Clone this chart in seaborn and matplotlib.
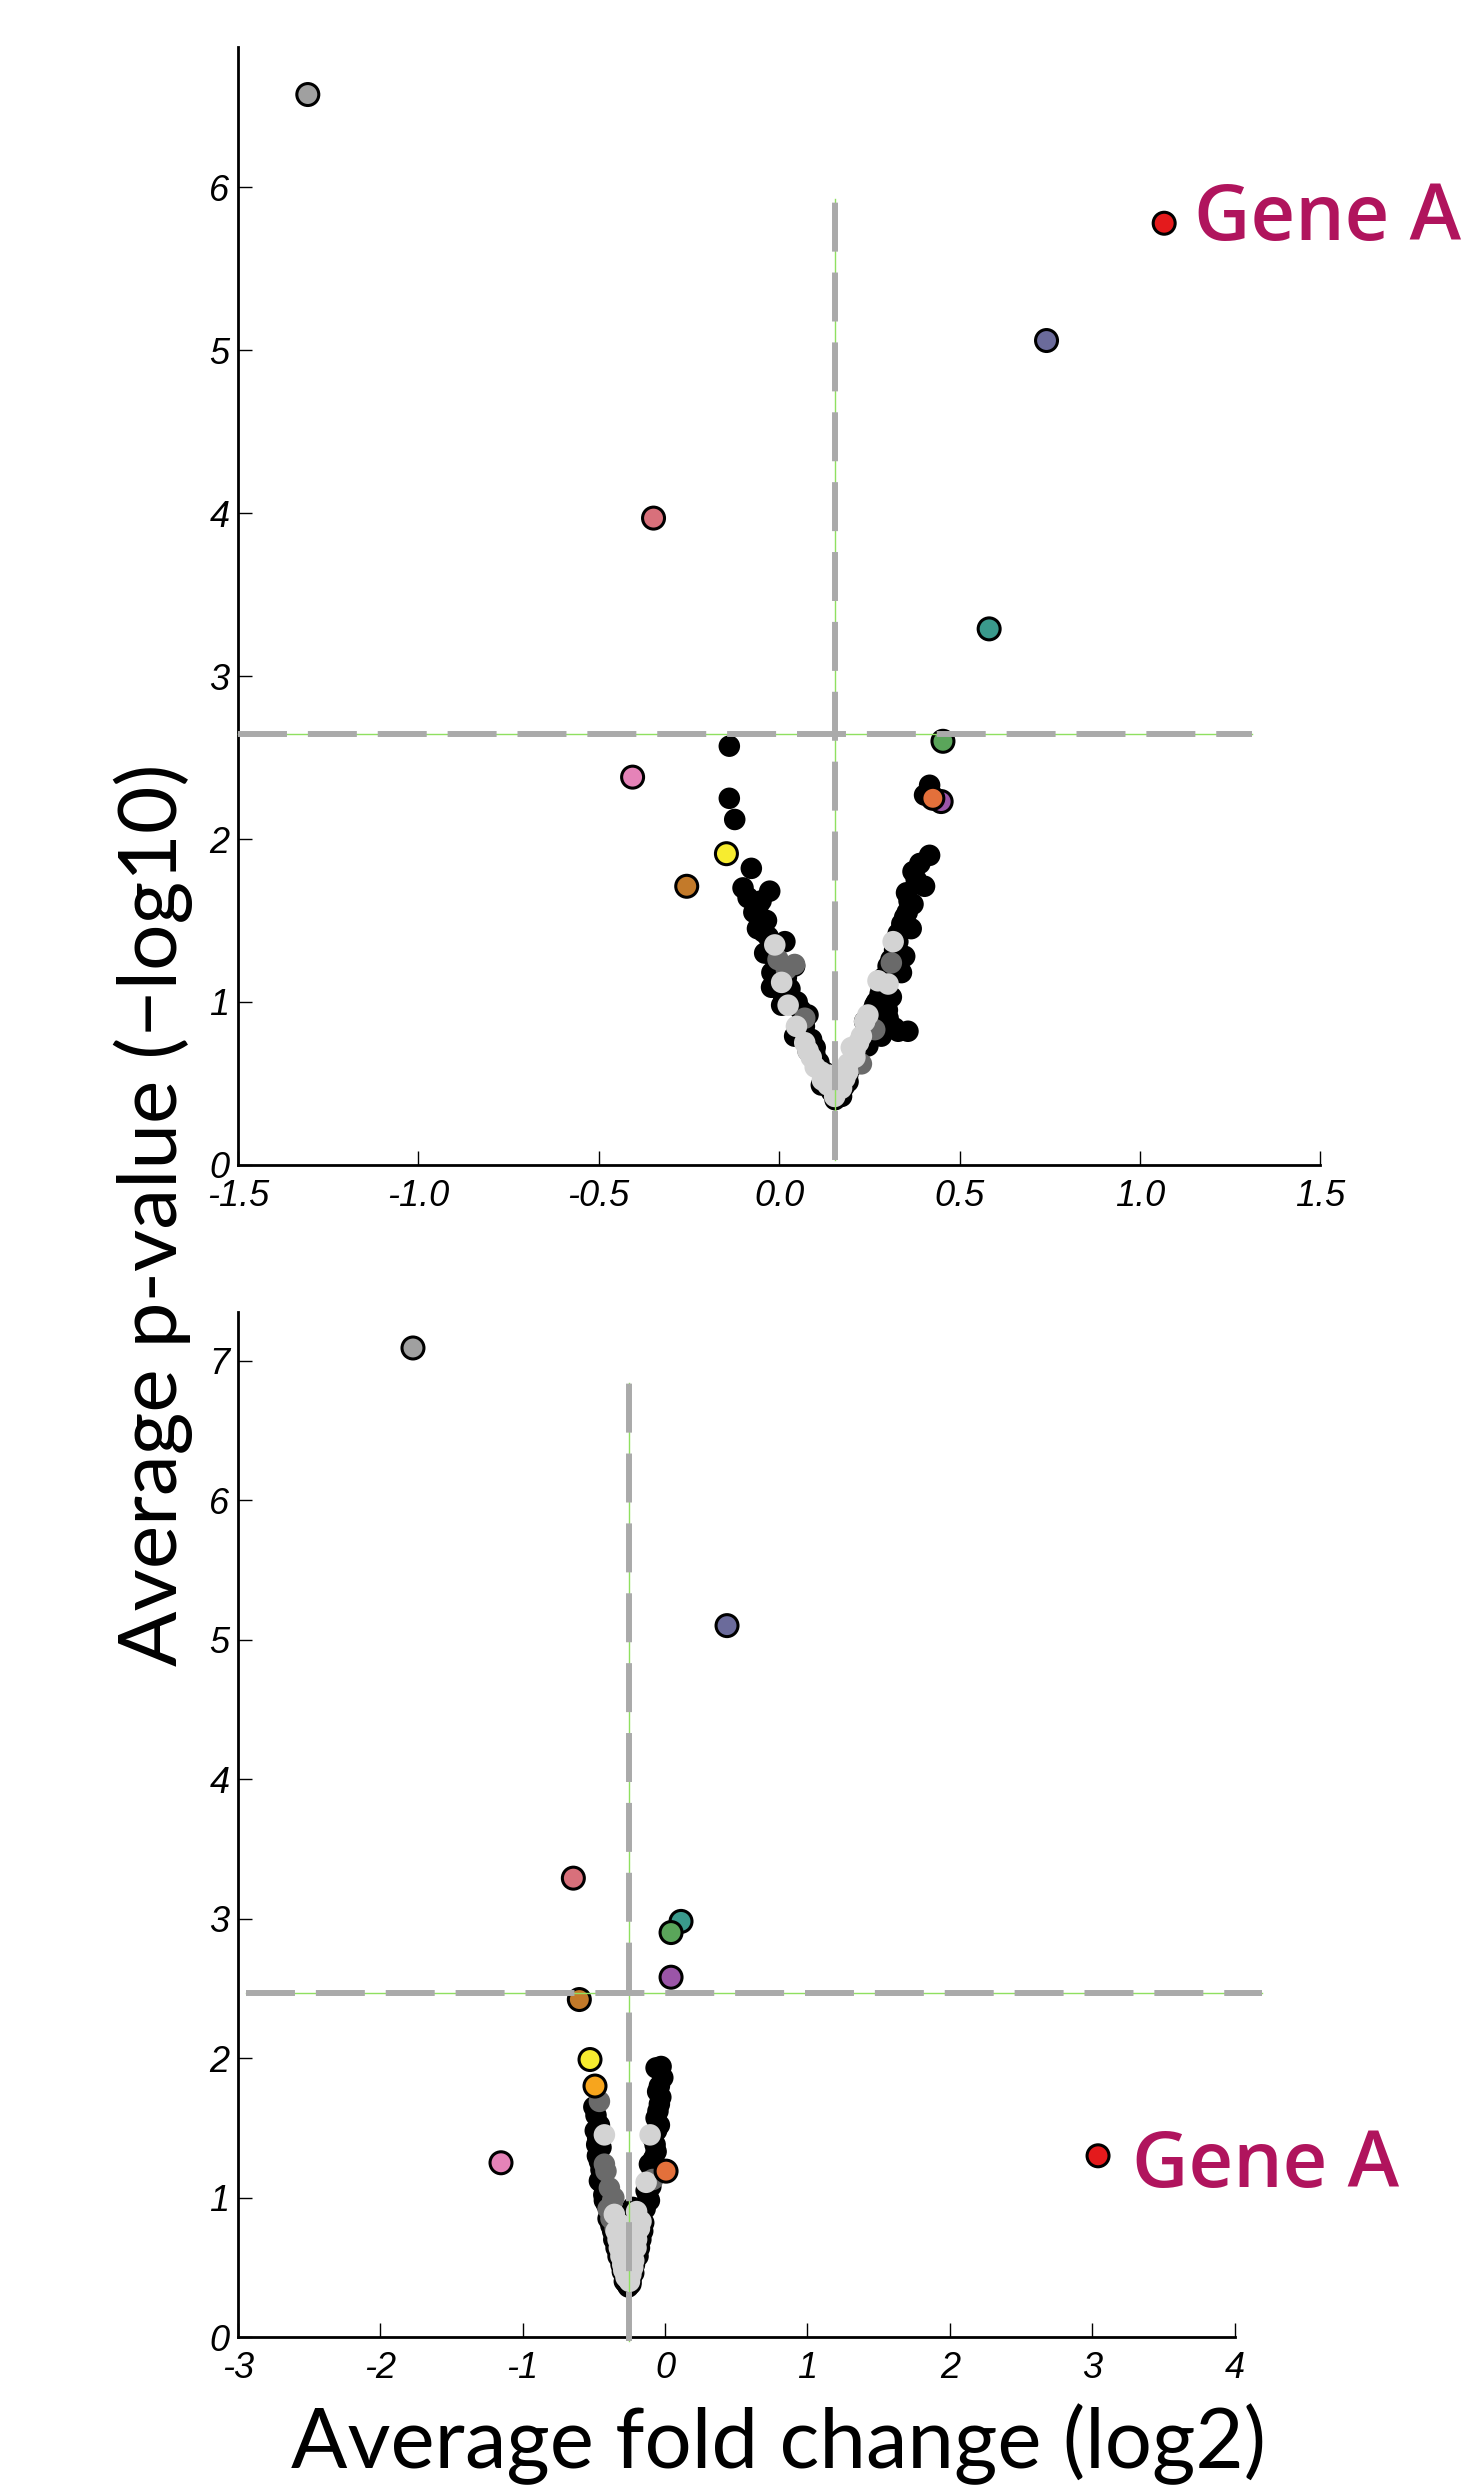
import matplotlib
matplotlib.use('Agg')
import matplotlib.pyplot as plt
import seaborn as sns
import pandas as pd

# ---- top panel data ----
top_black_x = [-0.138, -0.138, -0.123, -0.077, -0.026, -0.086, -0.058, -0.035, -0.044, 0.016,
               -0.017, 0.043, -0.021, 0.025, 0.080, 0.043, 0.099, 0.126, 0.145, 0.117,
               0.062, -0.003, 0.007,
               -0.100, -0.070, -0.050, -0.060, -0.030, -0.010, 0.000, 0.020, 0.030, 0.050,
               0.060, 0.070, 0.090, 0.100, 0.110, 0.130, 0.140, -0.040, -0.020, 0.010,
               0.417, 0.403, 0.417, 0.371, 0.403, 0.353, 0.371, 0.348, 0.366, 0.329,
               0.348, 0.302, 0.339, 0.283, 0.311, 0.265, 0.302, 0.357, 0.320, 0.237,
               0.246, 0.210, 0.191, 0.173, 0.283, 0.155,
               0.390, 0.380, 0.360, 0.355, 0.340, 0.330, 0.320, 0.310, 0.290, 0.280,
               0.270, 0.260, 0.250, 0.230, 0.220, 0.200, 0.190, 0.180, 0.300, 0.330]
top_black_y = [2.57, 2.25, 2.12, 1.82, 1.68, 1.64, 1.59, 1.50, 1.43, 1.37,
               1.28, 1.22, 1.09, 1.03, 0.92, 0.79, 0.68, 0.57, 0.45, 0.49,
               0.83, 1.13, 0.98,
               1.70, 1.55, 1.62, 1.45, 1.40, 1.33, 1.20, 1.15, 1.08, 1.00,
               0.95, 0.85, 0.77, 0.72, 0.63, 0.53, 0.48, 1.30, 1.18, 1.05,
               2.33, 2.27, 1.90, 1.80, 1.71, 1.67, 1.60, 1.52, 1.45, 1.37,
               1.28, 1.22, 1.18, 1.09, 1.03, 0.98, 0.90, 0.82, 0.84, 0.88,
               0.73, 0.62, 0.51, 0.42, 0.79, 0.40,
               1.85, 1.75, 1.62, 1.55, 1.48, 1.42, 1.32, 1.26, 1.15, 1.05,
               1.00, 0.95, 0.85, 0.78, 0.70, 0.60, 0.55, 0.48, 0.95, 0.82]
top_dark_x = [-0.003, 0.043, 0.071, 0.080, 0.311, 0.265, 0.228, 0.020]
top_dark_y = [1.26, 1.23, 0.90, 0.70, 1.24, 0.83, 0.62, 1.20]
top_light_x = [-0.012, 0.007, 0.025, 0.048, 0.071, 0.089, 0.117, 0.135, 0.154,
               0.316, 0.274, 0.302, 0.237, 0.228, 0.210, 0.191, 0.182, 0.173, 0.246,
               0.100, 0.120, 0.150, 0.170, 0.190, 0.210, 0.080, 0.220, 0.140, 0.200]
top_light_y = [1.35, 1.12, 0.98, 0.85, 0.75, 0.66, 0.57, 0.49, 0.42,
               1.37, 1.13, 1.11, 0.88, 0.79, 0.70, 0.62, 0.53, 0.47, 0.92,
               0.60, 0.52, 0.47, 0.52, 0.57, 0.66, 0.70, 0.75, 0.55, 0.72]
top_hit_names = ['grey', 'red', 'slate', 'rose', 'teal', 'green', 'pink',
                 'purple', 'orangered', 'yellow', 'brown']
top_hit_x = [-1.306, 1.067, 0.741, -0.348, 0.582, 0.454, -0.406, 0.449, 0.426, -0.146, -0.256]
top_hit_y = [6.57, 5.78, 5.06, 3.97, 3.29, 2.60, 2.38, 2.23, 2.25, 1.91, 1.71]

# ---- bottom panel data ----
bot_black_x = [-0.485, -0.461, -0.473, -0.450, -0.461, -0.438, -0.461, -0.415, -0.426, -0.391,
               -0.368, -0.344, -0.309, -0.286, -0.475,
               -0.500, -0.490, -0.480, -0.470, -0.450, -0.440, -0.430, -0.410, -0.400, -0.380,
               -0.360, -0.330, -0.300, -0.270,
               -0.028, -0.063, -0.016, -0.052, -0.040, -0.063, -0.040, -0.087, -0.063, -0.110,
               -0.087, -0.133, -0.110, -0.180, -0.157, -0.180, -0.215, -0.239, -0.227, -0.258,
               -0.040, -0.030, -0.050, -0.060, -0.070, -0.080, -0.090, -0.100, -0.120, -0.140,
               -0.150, -0.170, -0.190, -0.220, -0.240]
bot_black_y = [1.59, 1.52, 1.43, 1.36, 1.26, 1.19, 1.12, 1.05, 0.98, 0.90,
               0.76, 0.64, 0.52, 0.40, 1.30,
               1.65, 1.48, 1.38, 1.30, 1.20, 1.10, 1.02, 0.95, 0.85, 0.80,
               0.70, 0.58, 0.47, 0.38,
               1.94, 1.93, 1.86, 1.76, 1.67, 1.57, 1.52, 1.43, 1.33, 1.24,
               1.14, 1.05, 0.98, 0.88, 0.76, 0.64, 0.52, 0.40, 0.93, 0.36,
               1.80, 1.72, 1.62, 1.48, 1.38, 1.28, 1.20, 1.08, 1.00, 0.92,
               0.82, 0.70, 0.58, 0.46, 0.38]
bot_dark_x = [-0.461, -0.426, -0.415, -0.391, -0.368, -0.087, -0.400, -0.380, -0.350, -0.360]
bot_dark_y = [1.69, 1.24, 1.19, 1.07, 0.98, 1.13, 0.92, 0.85, 0.78, 1.00]
bot_light_x = [-0.426, -0.356, -0.344, -0.321, -0.297, -0.274,
               -0.105, -0.133, -0.169, -0.204, -0.227, -0.250,
               -0.330, -0.310, -0.290, -0.260, -0.240, -0.220, -0.200, -0.180,
               -0.280, -0.230, -0.300, -0.200]
bot_light_y = [1.45, 0.88, 0.76, 0.64, 0.52, 0.43,
               1.45, 1.11, 0.83, 0.64, 0.50, 0.40,
               0.70, 0.58, 0.48, 0.42, 0.45, 0.55, 0.70, 0.78,
               0.62, 0.62, 0.80, 0.90]
bot_hit_names = ['grey', 'slate', 'rose', 'teal', 'green', 'purple', 'brown',
                 'yellow', 'orange', 'pink', 'orangered', 'red']
bot_hit_x = [-1.77, 0.435, -0.644, 0.112, 0.042, 0.042, -0.602, -0.527, -0.492, -1.152, 0.007, 3.04]
bot_hit_y = [7.09, 5.10, 3.29, 2.98, 2.90, 2.58, 2.42, 1.99, 1.80, 1.25, 1.19, 1.30]

hit_colors = {'grey': '#a0a0a0', 'red': '#e41a1c', 'slate': '#6b6b9b', 'rose': '#d8707b',
              'teal': '#3a9a8c', 'green': '#5aa55a', 'pink': '#e583b8', 'purple': '#9b55a8',
              'orangered': '#e3703b', 'yellow': '#f7ec2f', 'brown': '#c37a2a', 'orange': '#f7a51d'}

tick_font = dict(family='Liberation Sans', style='italic', size=26)
label_font = 'Lato'
line_grey = '#aaaaaa'
line_green = '#8fe060'


def draw_panel(ax, bx, by, dx, dy, lx, ly, names, hx, hy, vline, hline):
    base = pd.concat([
        pd.DataFrame({'x': bx, 'y': by, 'kind': 'black'}),
        pd.DataFrame({'x': dx, 'y': dy, 'kind': 'dark'}),
        pd.DataFrame({'x': lx, 'y': ly, 'kind': 'light'}),
    ])
    sns.scatterplot(data=base, x='x', y='y', hue='kind', ax=ax, s=240, linewidth=0,
                    palette={'black': 'black', 'dark': '#6a6a6a', 'light': '#d3d3d3'},
                    legend=False, zorder=2)
    hits = pd.DataFrame({'x': hx, 'y': hy, 'name': names})
    sns.scatterplot(data=hits, x='x', y='y', hue='name', palette=hit_colors, ax=ax,
                    s=250, edgecolor='black', linewidth=2.2, legend=False, zorder=3)
    vx, vy0, vy1 = vline
    hy0, hx0, hx1 = hline
    for xs, ys in [([vx, vx], [vy0, vy1]), ([hx0, hx1], [hy0, hy0])]:
        ax.plot(xs, ys, color=line_green, lw=1, zorder=4, clip_on=False)
        ax.plot(xs, ys, color=line_grey, lw=4.3, dashes=(8.2, 3.5), zorder=5, clip_on=False)
    sns.despine(ax=ax)
    for s in ['left', 'bottom']:
        ax.spines[s].set_linewidth(2)
    ax.tick_params(direction='in', length=10, width=1, pad=6)
    ax.tick_params(axis='x', pad=10)
    ax.set_xlabel('')
    ax.set_ylabel('')


fig = plt.figure(figsize=(14.77, 24.89), dpi=100)
ax1 = fig.add_axes([0.161, 0.532, 0.733, 0.449])
ax2 = fig.add_axes([0.161, 0.061, 0.675, 0.412])

draw_panel(ax1, top_black_x, top_black_y, top_dark_x, top_dark_y, top_light_x, top_light_y,
           top_hit_names, top_hit_x, top_hit_y, (0.154, 0.03, 5.93), (2.645, -1.5, 1.31))
ax1.set_xlim(-1.5, 1.5)
ax1.set_ylim(0, 6.86)
ax1.set_xticks([-1.5, -1.0, -0.5, 0.0, 0.5, 1.0, 1.5])
ax1.set_xticklabels(['-1.5', '-1.0', '-0.5', '0.0', '0.5', '1.0', '1.5'], **tick_font)
ax1.set_yticks(range(7))
ax1.set_yticklabels([str(i) for i in range(7)], **tick_font)
ax1.text(1.15, 5.80, 'Gene A', color='#b0145d', fontsize=56, family='Open Sans',
         fontweight='semibold', va='center', ha='left')

draw_panel(ax2, bot_black_x, bot_black_y, bot_dark_x, bot_dark_y, bot_light_x, bot_light_y,
           bot_hit_names, bot_hit_x, bot_hit_y, (-0.256, -0.03, 6.84), (2.47, -2.94, 4.19))
ax2.set_xlim(-3, 4)
ax2.set_ylim(0, 7.35)
ax2.set_xticks(range(-3, 5))
ax2.set_xticklabels([str(i) for i in range(-3, 5)], **tick_font)
ax2.set_yticks(range(8))
ax2.set_yticklabels([str(i) for i in range(8)], **tick_font)
ax2.text(3.28, 1.22, 'Gene A', color='#b0145d', fontsize=56, family='Open Sans',
         fontweight='semibold', va='center', ha='left')

fig.text(0.104, 0.512, 'Average p-value (\u2212log10)', rotation=90, ha='center', va='center',
         fontsize=59, family=label_font)
fig.text(0.527, 0.018, 'Average fold change (log2)', ha='center', va='center',
         fontsize=60, family=label_font)

fig.savefig('out.png', dpi=100)
